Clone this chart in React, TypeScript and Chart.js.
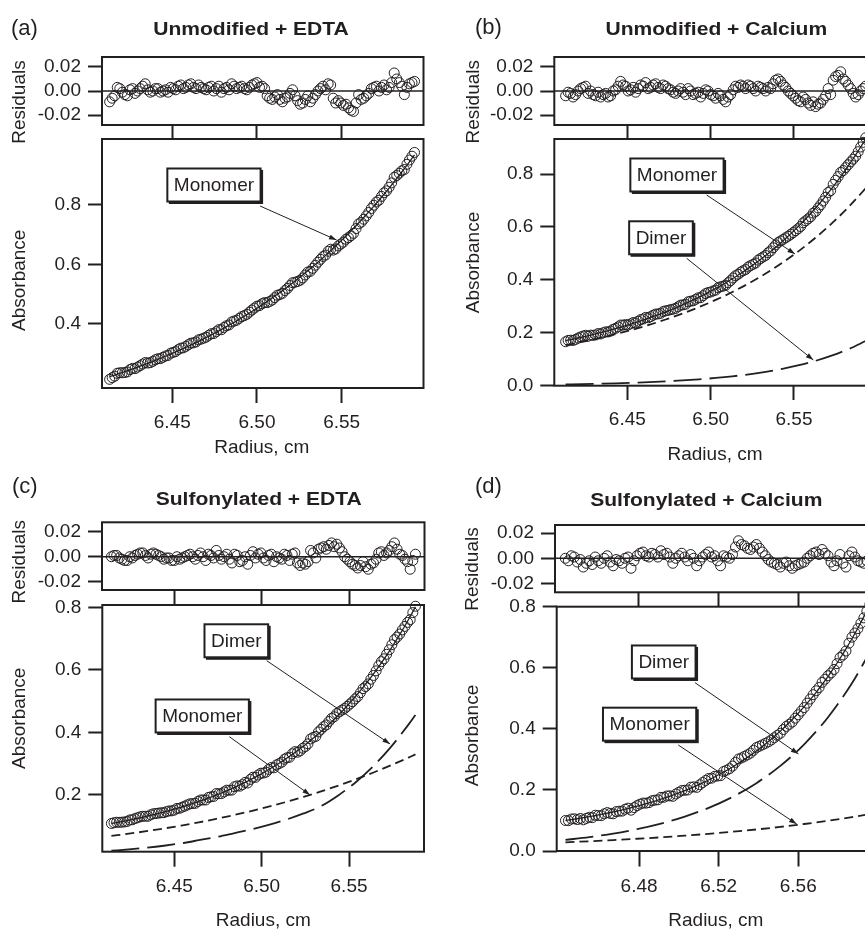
import React, { useEffect, useRef } from 'react';
import { Chart, registerables } from 'chart.js';

Chart.register(...registerables);

const INK = '#231f20';
const FONT = '"Liberation Sans", Arial, Helvetica, sans-serif';

// ---------- tick values ----------
const residTicks = [-0.02, 0, 0.02];
const radiusTicksABC = [6.45, 6.5, 6.55];
const radiusTicksD = [6.48, 6.52, 6.56];
const absTicksA = [0.4, 0.6, 0.8];
const absTicksB = [0, 0.2, 0.4, 0.6, 0.8];
const absTicksC = [0.2, 0.4, 0.6, 0.8];
const absTicksD = [0, 0.2, 0.4, 0.6, 0.8];

// ---------- panel (a) & (b) radii ----------
const radiusAB = [6.413, 6.416, 6.419, 6.422, 6.425, 6.428, 6.431, 6.434, 6.437, 6.44,
  6.443, 6.446, 6.449, 6.452, 6.455, 6.458, 6.461, 6.464, 6.467, 6.47,
  6.473, 6.476, 6.479, 6.482, 6.485, 6.488, 6.491, 6.494, 6.497, 6.5,
  6.503, 6.506, 6.509, 6.512, 6.515, 6.518, 6.521, 6.524, 6.527, 6.53,
  6.533, 6.536, 6.539, 6.542, 6.545, 6.548, 6.551, 6.554, 6.557, 6.56,
  6.563, 6.566, 6.569, 6.572, 6.575, 6.578, 6.581, 6.584, 6.587, 6.59, 6.593];
const radiusAB2 = [6.4145, 6.4175, 6.4205, 6.4235, 6.4265, 6.4295, 6.4325, 6.4355, 6.4385, 6.4415,
  6.4445, 6.4475, 6.4505, 6.4535, 6.4565, 6.4595, 6.4625, 6.4655, 6.4685, 6.4715,
  6.4745, 6.4775, 6.4805, 6.4835, 6.4865, 6.4895, 6.4925, 6.4955, 6.4985, 6.5015,
  6.5045, 6.5075, 6.5105, 6.5135, 6.5165, 6.5195, 6.5225, 6.5255, 6.5285, 6.5315,
  6.5345, 6.5375, 6.5405, 6.5435, 6.5465, 6.5495, 6.5525, 6.5555, 6.5585, 6.5615,
  6.5645, 6.5675, 6.5705, 6.5735, 6.5765, 6.5795, 6.5825, 6.5855, 6.5885, 6.5915];

// (a) Unmodified + EDTA
const residA = [-0.009, -0.004, 0.002, -0.003, 0.001, -0.002, 0.002, 0.006, -0.001, 0.002,
  -0.001, 0.001, 0.003, 0.001, 0.005, 0.003, 0.006, 0.002, 0.003, 0.001,
  0.004, 0.002, -0.001, 0.003, 0.006, 0.002, 0.004, 0.001, 0.005, 0.007,
  0.004, -0.004, -0.007, -0.003, -0.009, -0.005, 0.001, -0.008, -0.010, -0.004,
  -0.006, 0.000, 0.004, 0.006, -0.006, -0.008, -0.012, -0.014, -0.017, -0.003,
  -0.006, -0.002, 0.003, 0.000, 0.005, 0.003, 0.015, 0.007, -0.003, 0.006, 0.008];
const residA2 = [-0.006, 0.003, -0.001, -0.004, 0.002, 0.000, 0.004, 0.001, 0.000, 0.002,
  0.000, -0.001, 0.002, 0.004, 0.002, 0.005, 0.003, 0.005, 0.002, 0.003,
  0.000, 0.004, 0.002, 0.001, 0.004, 0.003, 0.002, 0.003, 0.006, 0.003,
  0.002, -0.006, -0.005, -0.007, -0.006, -0.002, -0.004, -0.011, -0.007, -0.009,
  -0.003, 0.002, 0.001, 0.005, -0.010, -0.010, -0.011, -0.016, -0.010, -0.007,
  -0.004, 0.002, 0.004, 0.003, 0.001, 0.007, 0.010, 0.004, 0.003, 0.007];
const absA = [0.2125, 0.2230, 0.2347, 0.2355, 0.2454, 0.2485, 0.2587, 0.2691, 0.2687, 0.2784,
  0.2823, 0.2913, 0.3006, 0.3060, 0.3176, 0.3234, 0.3344, 0.3385, 0.3479, 0.3545,
  0.3663, 0.3733, 0.3796, 0.3930, 0.4058, 0.4117, 0.4239, 0.4314, 0.4461, 0.4591,
  0.4674, 0.4709, 0.4797, 0.4959, 0.5023, 0.5190, 0.5381, 0.5424, 0.5541, 0.5742,
  0.5866, 0.6073, 0.6265, 0.6440, 0.6479, 0.6621, 0.6748, 0.6899, 0.7045, 0.7364,
  0.7519, 0.7747, 0.7991, 0.8159, 0.8412, 0.8600, 0.8933, 0.9072, 0.9196, 0.9516, 0.9771];
const absA2 = [0.2183, 0.2329, 0.2346, 0.2375, 0.2495, 0.2536, 0.2639, 0.2674, 0.2731, 0.2819,
  0.2868, 0.2930, 0.3033, 0.3128, 0.3185, 0.3294, 0.3355, 0.3457, 0.3512, 0.3609,
  0.3668, 0.3800, 0.3873, 0.3959, 0.4088, 0.4178, 0.4272, 0.4388, 0.4526, 0.4608,
  0.4712, 0.4748, 0.4878, 0.4981, 0.5117, 0.5286, 0.5398, 0.5463, 0.5642, 0.5764,
  0.5970, 0.6169, 0.6313, 0.6510, 0.6520, 0.6685, 0.6844, 0.6967, 0.7205, 0.7417,
  0.7633, 0.7884, 0.8100, 0.8291, 0.8476, 0.8747, 0.8993, 0.9154, 0.9371, 0.9644];
const fitA = [0.2215, 0.2270, 0.2327, 0.2385, 0.2444, 0.2505, 0.2567, 0.2631, 0.2697, 0.2764,
  0.2833, 0.2903, 0.2976, 0.3050, 0.3126, 0.3204, 0.3284, 0.3365, 0.3449, 0.3535,
  0.3623, 0.3713, 0.3806, 0.3900, 0.3998, 0.4097, 0.4199, 0.4304, 0.4411, 0.4521,
  0.4634, 0.4749, 0.4867, 0.4989, 0.5113, 0.5240, 0.5371, 0.5504, 0.5641, 0.5782,
  0.5926, 0.6073, 0.6225, 0.6380, 0.6539, 0.6701, 0.6868, 0.7039, 0.7215, 0.7394,
  0.7579, 0.7767, 0.7961, 0.8159, 0.8362, 0.8570, 0.8783, 0.9002, 0.9226, 0.9456, 0.9691];

// (b) Unmodified + Calcium
const residB = [-0.004, -0.002, -0.003, 0.002, 0.004, 0.000, -0.004, -0.005, -0.002, -0.004,
  0.001, 0.008, 0.004, 0.001, -0.001, 0.005, 0.007, 0.003, 0.006, 0.002,
  0.004, 0.001, -0.002, 0.002, -0.003, 0.000, -0.002, -0.005, 0.001, -0.003,
  -0.006, -0.004, -0.009, -0.003, 0.004, 0.005, 0.002, 0.004, 0.000, 0.003,
  0.000, 0.002, 0.009, 0.008, 0.003, -0.002, -0.006, -0.009, -0.007, -0.012,
  -0.013, -0.010, -0.004, -0.003, 0.012, 0.016, 0.008, 0.002, -0.005, 0.000, 0.004];
const residB2 = [-0.001, -0.005, 0.000, 0.003, -0.002, -0.003, -0.001, -0.003, -0.005, 0.000,
  0.004, 0.005, 0.000, 0.003, 0.002, 0.004, 0.002, 0.005, 0.003, 0.005,
  0.002, -0.001, 0.000, -0.001, 0.002, -0.003, -0.001, -0.002, 0.000, -0.004,
  -0.002, -0.007, -0.005, 0.001, 0.003, 0.004, 0.005, 0.002, 0.004, 0.002,
  0.003, 0.006, 0.010, 0.005, 0.000, -0.004, -0.008, -0.005, -0.010, -0.009,
  -0.011, -0.007, 0.002, 0.009, 0.013, 0.010, 0.005, -0.002, -0.003, 0.002];
const absB = [0.1660, 0.1720, 0.1750, 0.1843, 0.1906, 0.1911, 0.1917, 0.1955, 0.2035, 0.2066,
  0.2168, 0.2292, 0.2308, 0.2336, 0.2376, 0.2498, 0.2582, 0.2608, 0.2707, 0.2737,
  0.2830, 0.2875, 0.2923, 0.3044, 0.3078, 0.3194, 0.3263, 0.3325, 0.3481, 0.3540,
  0.3612, 0.3738, 0.3798, 0.3972, 0.4160, 0.4292, 0.4389, 0.4539, 0.4635, 0.4806,
  0.4922, 0.5093, 0.5320, 0.5472, 0.5591, 0.5717, 0.5858, 0.6017, 0.6232, 0.6385,
  0.6586, 0.6835, 0.7122, 0.7369, 0.7764, 0.8059, 0.8243, 0.8458, 0.8674, 0.9021, 0.9370];
const absB2 = [0.1710, 0.1710, 0.1802, 0.1875, 0.1869, 0.1904, 0.1971, 0.2000, 0.2031, 0.2132,
  0.2225, 0.2290, 0.2297, 0.2386, 0.2437, 0.2520, 0.2565, 0.2663, 0.2712, 0.2804,
  0.2848, 0.2894, 0.2984, 0.3056, 0.3171, 0.3209, 0.3319, 0.3403, 0.3521, 0.3581,
  0.3705, 0.3763, 0.3895, 0.4071, 0.4211, 0.4346, 0.4484, 0.4587, 0.4746, 0.4869,
  0.5028, 0.5212, 0.5411, 0.5527, 0.5649, 0.5788, 0.5933, 0.6155, 0.6304, 0.6521,
  0.6716, 0.6979, 0.7301, 0.7612, 0.7902, 0.8131, 0.8351, 0.8561, 0.8843, 0.9196];
const fitB = [0.1700, 0.1740, 0.1780, 0.1823, 0.1866, 0.1911, 0.1957, 0.2005, 0.2055, 0.2106,
  0.2158, 0.2212, 0.2268, 0.2326, 0.2386, 0.2448, 0.2512, 0.2578, 0.2647, 0.2717,
  0.2790, 0.2865, 0.2943, 0.3024, 0.3108, 0.3194, 0.3283, 0.3375, 0.3471, 0.3570,
  0.3672, 0.3778, 0.3888, 0.4002, 0.4120, 0.4242, 0.4369, 0.4499, 0.4635, 0.4776,
  0.4922, 0.5073, 0.5230, 0.5392, 0.5561, 0.5737, 0.5918, 0.6107, 0.6302, 0.6505,
  0.6716, 0.6935, 0.7162, 0.7399, 0.7644, 0.7899, 0.8163, 0.8438, 0.8724, 0.9021, 0.9330];
const curveRadiusB = [6.413, 6.423, 6.433, 6.443, 6.453, 6.463, 6.473, 6.483, 6.493, 6.503,
  6.513, 6.523, 6.533, 6.543, 6.553, 6.563, 6.573, 6.583, 6.593];
const monomerB = [0.1532, 0.1658, 0.1797, 0.1949, 0.2116, 0.2299, 0.2501, 0.2724, 0.2970, 0.3241,
  0.3541, 0.3873, 0.4239, 0.4645, 0.5096, 0.5596, 0.6152, 0.6770, 0.7458];
const dimerB = [0.0050, 0.0061, 0.0075, 0.0091, 0.0110, 0.0134, 0.0163, 0.0198, 0.0240, 0.0292,
  0.0355, 0.0431, 0.0524, 0.0637, 0.0774, 0.0941, 0.1143, 0.1390, 0.1689];

// (c) Sulfonylated + EDTA
const radiusC = [6.414, 6.417, 6.42, 6.423, 6.426, 6.429, 6.432, 6.435, 6.438, 6.441,
  6.444, 6.447, 6.45, 6.453, 6.456, 6.459, 6.462, 6.465, 6.468, 6.471,
  6.474, 6.477, 6.48, 6.483, 6.486, 6.489, 6.492, 6.495, 6.498, 6.501,
  6.504, 6.507, 6.51, 6.513, 6.516, 6.519, 6.522, 6.525, 6.528, 6.531,
  6.534, 6.537, 6.54, 6.543, 6.546, 6.549, 6.552, 6.555, 6.558, 6.561,
  6.564, 6.567, 6.57, 6.573, 6.576, 6.579, 6.582, 6.585, 6.588];
const radiusC2 = [6.4155, 6.4185, 6.4215, 6.4245, 6.4275, 6.4305, 6.4335, 6.4365, 6.4395, 6.4425,
  6.4455, 6.4485, 6.4515, 6.4545, 6.4575, 6.4605, 6.4635, 6.4665, 6.4695, 6.4725,
  6.4755, 6.4785, 6.4815, 6.4845, 6.4875, 6.4905, 6.4935, 6.4965, 6.4995, 6.5025,
  6.5055, 6.5085, 6.5115, 6.5145, 6.5175, 6.5205, 6.5235, 6.5265, 6.5295, 6.5325,
  6.5355, 6.5385, 6.5415, 6.5445, 6.5475, 6.5505, 6.5535, 6.5565, 6.5595, 6.5625,
  6.5655, 6.5685, 6.5715, 6.5745, 6.5775, 6.5805, 6.5835, 6.5865];
const residC = [0.000, 0.001, -0.002, -0.003, -0.001, 0.002, 0.003, -0.001, 0.003, 0.001,
  -0.002, -0.001, -0.003, -0.002, 0.000, 0.002, -0.002, 0.003, -0.003, 0.001,
  0.005, -0.002, 0.002, -0.005, 0.001, -0.003, -0.006, 0.004, 0.002, -0.001,
  0.001, -0.004, -0.001, 0.002, -0.003, 0.003, -0.007, -0.006, 0.005, -0.001,
  0.007, 0.006, 0.011, 0.010, 0.004, -0.002, -0.006, -0.009, -0.004, -0.010,
  -0.005, 0.003, 0.001, 0.005, 0.011, 0.002, -0.002, -0.010, 0.002];
const residC2 = [0.001, -0.001, -0.003, 0.000, 0.001, 0.003, 0.001, 0.002, 0.002, 0.000,
  -0.001, -0.003, 0.000, -0.001, 0.001, 0.000, 0.001, 0.000, 0.002, -0.001,
  0.001, 0.000, -0.002, 0.002, -0.004, 0.000, 0.001, -0.001, 0.003, -0.003,
  0.002, 0.000, -0.002, 0.001, 0.002, -0.005, -0.005, -0.004, 0.003, 0.006,
  0.008, 0.009, 0.008, 0.007, 0.000, -0.004, -0.007, -0.007, -0.008, -0.006,
  -0.002, 0.004, 0.003, 0.008, 0.006, 0.001, -0.004, -0.003];
const absC = [0.1089, 0.1129, 0.1131, 0.1154, 0.1208, 0.1273, 0.1320, 0.1319, 0.1399, 0.1420,
  0.1434, 0.1489, 0.1516, 0.1574, 0.1645, 0.1718, 0.1733, 0.1840, 0.1840, 0.1942,
  0.2046, 0.2044, 0.2154, 0.2157, 0.2292, 0.2331, 0.2384, 0.2569, 0.2639, 0.2701,
  0.2818, 0.2869, 0.3004, 0.3143, 0.3207, 0.3386, 0.3410, 0.3549, 0.3793, 0.3873,
  0.4099, 0.4240, 0.4449, 0.4604, 0.4716, 0.4835, 0.4982, 0.5147, 0.5400, 0.5552,
  0.5822, 0.6133, 0.6353, 0.6643, 0.6964, 0.7146, 0.7390, 0.7606, 0.8035];
const absC2 = [0.1114, 0.1125, 0.1138, 0.1201, 0.1246, 0.1302, 0.1320, 0.1369, 0.1410, 0.1432,
  0.1467, 0.1493, 0.1570, 0.1610, 0.1682, 0.1726, 0.1792, 0.1840, 0.1921, 0.1954,
  0.2040, 0.2099, 0.2151, 0.2265, 0.2282, 0.2403, 0.2497, 0.2564, 0.2695, 0.2730,
  0.2879, 0.2962, 0.3049, 0.3190, 0.3317, 0.3368, 0.3495, 0.3636, 0.3843, 0.4016,
  0.4185, 0.4350, 0.4502, 0.4660, 0.4766, 0.4909, 0.5070, 0.5269, 0.5466, 0.5702,
  0.5968, 0.6263, 0.6498, 0.6804, 0.7050, 0.7278, 0.7518, 0.7831];
const fitC = [0.1089, 0.1119, 0.1151, 0.1184, 0.1218, 0.1253, 0.1290, 0.1329, 0.1369, 0.1410,
  0.1454, 0.1499, 0.1546, 0.1594, 0.1645, 0.1698, 0.1753, 0.1810, 0.1870, 0.1932,
  0.1996, 0.2064, 0.2134, 0.2207, 0.2282, 0.2361, 0.2444, 0.2529, 0.2619, 0.2711,
  0.2808, 0.2909, 0.3014, 0.3123, 0.3237, 0.3356, 0.3480, 0.3609, 0.3743, 0.3883,
  0.4029, 0.4180, 0.4339, 0.4504, 0.4676, 0.4855, 0.5042, 0.5237, 0.5440, 0.5652,
  0.5872, 0.6103, 0.6343, 0.6593, 0.6854, 0.7126, 0.7410, 0.7706, 0.8015];
const curveRadiusC = [6.414, 6.424, 6.434, 6.444, 6.454, 6.464, 6.474, 6.484, 6.494, 6.504,
  6.514, 6.524, 6.534, 6.544, 6.554, 6.564, 6.574, 6.584, 6.588];
const monomerC = [0.0690, 0.0763, 0.0842, 0.0929, 0.1023, 0.1125, 0.1236, 0.1357, 0.1487, 0.1627,
  0.1778, 0.1941, 0.2116, 0.2303, 0.2505, 0.2720, 0.2950, 0.3195, 0.3298];
const dimerC = [0.0218, 0.0262, 0.0313, 0.0377, 0.0456, 0.0554, 0.0656, 0.0776, 0.0899, 0.1043,
  0.1211, 0.1410, 0.1646, 0.1995, 0.2417, 0.2927, 0.3538, 0.4250, 0.4557];

// (d) Sulfonylated + Calcium
const radiusD = [6.443, 6.446, 6.449, 6.452, 6.455, 6.458, 6.461, 6.464, 6.467, 6.47,
  6.473, 6.476, 6.479, 6.482, 6.485, 6.488, 6.491, 6.494, 6.497, 6.5,
  6.503, 6.506, 6.509, 6.512, 6.515, 6.518, 6.521, 6.524, 6.527, 6.53,
  6.533, 6.536, 6.539, 6.542, 6.545, 6.548, 6.551, 6.554, 6.557, 6.56,
  6.563, 6.566, 6.569, 6.572, 6.575, 6.578, 6.581, 6.584, 6.587, 6.59, 6.593, 6.596];
const radiusD2 = [6.4445, 6.4475, 6.4505, 6.4535, 6.4565, 6.4595, 6.4625, 6.4655, 6.4685, 6.4715,
  6.4745, 6.4775, 6.4805, 6.4835, 6.4865, 6.4895, 6.4925, 6.4955, 6.4985, 6.5015,
  6.5045, 6.5075, 6.5105, 6.5135, 6.5165, 6.5195, 6.5225, 6.5255, 6.5285, 6.5315,
  6.5345, 6.5375, 6.5405, 6.5435, 6.5465, 6.5495, 6.5525, 6.5555, 6.5585, 6.5615,
  6.5645, 6.5675, 6.5705, 6.5735, 6.5765, 6.5795, 6.5825, 6.5855, 6.5885, 6.5915, 6.5945];
const residD = [0.000, 0.002, -0.003, -0.007, -0.002, 0.001, -0.004, 0.002, -0.006, -0.002,
  0.000, -0.008, 0.002, 0.005, 0.001, 0.003, 0.006, 0.004, -0.004, 0.002,
  0.001, 0.003, -0.006, 0.001, 0.005, 0.002, -0.006, 0.001, 0.003, 0.014,
  0.010, 0.007, 0.011, 0.005, -0.001, -0.004, -0.007, -0.003, -0.008, -0.005,
  -0.003, 0.002, 0.005, 0.007, 0.002, -0.006, 0.003, -0.007, 0.005, -0.002, -0.004, 0.000];
const residD2 = [-0.002, 0.001, -0.001, -0.004, -0.005, -0.002, 0.000, -0.003, -0.001, -0.004,
  0.001, -0.002, 0.004, 0.002, 0.004, 0.001, 0.003, 0.001, 0.000, 0.004,
  -0.002, 0.000, -0.002, 0.003, 0.001, -0.002, 0.002, 0.000, 0.009, 0.011,
  0.008, 0.009, 0.008, 0.002, -0.003, -0.005, -0.004, -0.006, -0.006, -0.004,
  0.000, 0.004, 0.003, 0.004, -0.003, -0.002, -0.004, 0.002, 0.001, -0.003, -0.002];
const absD = [0.0999, 0.1048, 0.1029, 0.1021, 0.1105, 0.1171, 0.1158, 0.1258, 0.1219, 0.1303,
  0.1368, 0.1337, 0.1487, 0.1570, 0.1586, 0.1665, 0.1757, 0.1802, 0.1791, 0.1923,
  0.1989, 0.2089, 0.2083, 0.2242, 0.2375, 0.2444, 0.2468, 0.2647, 0.2782, 0.3013,
  0.3101, 0.3205, 0.3387, 0.3476, 0.3574, 0.3710, 0.3855, 0.4080, 0.4225, 0.4461,
  0.4697, 0.4976, 0.5247, 0.5522, 0.5740, 0.5944, 0.6333, 0.6549, 0.7002, 0.7283, 0.7634, 0.8066];
const absD2 = [0.0994, 0.1054, 0.1065, 0.1068, 0.1093, 0.1160, 0.1218, 0.1229, 0.1291, 0.1306,
  0.1403, 0.1422, 0.1534, 0.1568, 0.1646, 0.1676, 0.1760, 0.1807, 0.1867, 0.1981,
  0.1999, 0.2101, 0.2168, 0.2309, 0.2385, 0.2456, 0.2603, 0.2695, 0.2903, 0.3047,
  0.3148, 0.3296, 0.3432, 0.3525, 0.3637, 0.3788, 0.3978, 0.4148, 0.4348, 0.4579,
  0.4842, 0.5117, 0.5355, 0.5626, 0.5832, 0.6134, 0.6421, 0.6806, 0.7138, 0.7459, 0.7850];
const fitD = [0.0999, 0.1028, 0.1059, 0.1091, 0.1125, 0.1161, 0.1198, 0.1238, 0.1279, 0.1323,
  0.1368, 0.1417, 0.1467, 0.1520, 0.1576, 0.1635, 0.1697, 0.1762, 0.1831, 0.1903,
  0.1979, 0.2059, 0.2143, 0.2232, 0.2325, 0.2424, 0.2528, 0.2637, 0.2752, 0.2873,
  0.3001, 0.3135, 0.3277, 0.3426, 0.3584, 0.3750, 0.3925, 0.4110, 0.4305, 0.4511,
  0.4727, 0.4956, 0.5197, 0.5452, 0.5720, 0.6004, 0.6303, 0.6619, 0.6952, 0.7303, 0.7674, 0.8066];
const curveRadiusD = [6.443, 6.455, 6.467, 6.479, 6.491, 6.503, 6.515, 6.527, 6.539, 6.551,
  6.563, 6.575, 6.587, 6.596];
const monomerD = [0.0285, 0.0319, 0.0358, 0.0401, 0.0448, 0.0502, 0.0562, 0.0630, 0.0705, 0.0789,
  0.0884, 0.0989, 0.1108, 0.1206];
const dimerD = [0.0363, 0.0456, 0.0571, 0.0717, 0.0899, 0.1127, 0.1413, 0.1772, 0.2222, 0.2786,
  0.3494, 0.4382, 0.5494, 0.6511];

// ---------- types ----------
type Rect = { x: number; y: number; w: number; h: number };
type Area = { l: number; t: number; r: number; b: number };
type TextItem = {
  text: string; x: number; y: number; size: number; bold?: boolean; rotate?: boolean;
  align?: CanvasTextAlign; baseline?: CanvasTextBaseline; stretch?: number;
};
type Note = { text: string; cx: number; cy: number; sx: number; sy: number; ex: number; ey: number };
type Axis = { min: number; max: number; ticks: number[]; dec: number; labels: boolean; tickLen: number };
type Spec = {
  canvas: Rect; area: Area; x: Axis; y: Axis; zeroLine: boolean;
  datasets: any[]; texts: TextItem[]; notes: Note[];
};

const pts = (xs: number[], ys: number[]) => xs.map((x, i) => ({ x, y: ys[i] }));

const circles = (xs: number[], ys: number[], xs2: number[], ys2: number[]) => ({
  data: [...pts(xs, ys), ...pts(xs2, ys2)], showLine: false, pointRadius: 5, pointBorderWidth: 1,
  pointBorderColor: INK, pointBackgroundColor: 'rgba(0,0,0,0)', clip: false, order: 0,
});
const curve = (xs: number[], ys: number[], dash: number[], width: number, order: number) => ({
  data: pts(xs, ys), showLine: true, pointRadius: 0, borderColor: INK, borderWidth: width,
  borderDash: dash, cubicInterpolationMode: 'monotone', order,
});

const SHORT_DASH = [9, 5];
const LONG_DASH = [28, 8];

// ---------- plugin ----------
function decor(spec: Spec) {
  return {
    id: 'decor',
    afterDatasetsDraw(chart: any) {
      const { ctx, chartArea: a, scales } = chart;
      const sx = scales.x, sy = scales.y;
      ctx.save();
      ctx.strokeStyle = INK;
      ctx.fillStyle = INK;
      if (spec.zeroLine) {
        const y0 = sy.getPixelForValue(0);
        ctx.lineWidth = 1.6;
        ctx.beginPath(); ctx.moveTo(a.left, y0); ctx.lineTo(a.right, y0); ctx.stroke();
      }
      ctx.lineWidth = 2;
      ctx.strokeRect(a.left, a.top, a.right - a.left, a.bottom - a.top);

      for (const n of spec.notes) {
        const x1 = sx.getPixelForValue(n.sx), y1 = sy.getPixelForValue(n.sy);
        const x2 = sx.getPixelForValue(n.ex), y2 = sy.getPixelForValue(n.ey);
        ctx.lineWidth = 1;
        ctx.beginPath(); ctx.moveTo(x1, y1); ctx.lineTo(x2, y2); ctx.stroke();
        const ang = Math.atan2(y2 - y1, x2 - x1);
        const L = 8, spread = 0.32;
        ctx.beginPath();
        ctx.moveTo(x2, y2);
        ctx.lineTo(x2 - L * Math.cos(ang - spread), y2 - L * Math.sin(ang - spread));
        ctx.lineTo(x2 - L * Math.cos(ang + spread), y2 - L * Math.sin(ang + spread));
        ctx.closePath(); ctx.fill();

        ctx.font = `19px ${FONT}`;
        const w = ctx.measureText(n.text).width + 13;
        const h = 33;
        const cx = sx.getPixelForValue(n.cx), cy = sy.getPixelForValue(n.cy);
        const left = cx - w / 2, top = cy - h / 2;
        ctx.fillStyle = INK;
        ctx.fillRect(left + 1.5, top + 1.5, w + 1, h + 1);
        ctx.fillStyle = '#ffffff';
        ctx.fillRect(left, top, w, h);
        ctx.lineWidth = 2;
        ctx.strokeRect(left, top, w, h);
        ctx.fillStyle = INK;
        ctx.textAlign = 'center';
        ctx.textBaseline = 'middle';
        ctx.fillText(n.text, cx, cy + 1);
      }
      ctx.restore();
    },
    afterDraw(chart: any) {
      const { ctx } = chart;
      ctx.save();
      ctx.fillStyle = INK;
      for (const t of spec.texts) {
        const x = t.x - spec.canvas.x, y = t.y - spec.canvas.y;
        ctx.font = `${t.bold ? 'bold ' : ''}${t.size}px ${FONT}`;
        ctx.textAlign = t.align || 'center';
        ctx.textBaseline = t.baseline || 'middle';
        ctx.save();
        ctx.translate(x, y);
        if (t.rotate) ctx.rotate(-Math.PI / 2);
        if (t.stretch) ctx.scale(t.stretch, 1);
        ctx.fillText(t.text, 0, 0);
        ctx.restore();
      }
      ctx.restore();
    },
  };
}

function zeroPads(s: any) {
  s.paddingLeft = 0; s.paddingRight = 0; s.paddingTop = 0; s.paddingBottom = 0;
}

function buildConfig(spec: Spec): any {
  const { canvas, area, x, y } = spec;
  return {
    type: 'scatter',
    data: { datasets: spec.datasets },
    plugins: [decor(spec)],
    options: {
      responsive: false,
      maintainAspectRatio: false,
      animation: false,
      events: [],
      layout: {
        autoPadding: false,
        padding: { left: 0, top: area.t - canvas.y, right: canvas.x + canvas.w - area.r, bottom: 0 },
      },
      plugins: { legend: { display: false }, tooltip: { enabled: false }, title: { display: false } },
      scales: {
        x: {
          type: 'linear', position: 'bottom', min: x.min, max: x.max,
          afterBuildTicks: (s: any) => { s.ticks = x.ticks.map((v) => ({ value: v })); },
          afterFit: (s: any) => { s.height = canvas.y + canvas.h - area.b; zeroPads(s); },
          grid: { display: true, drawOnChartArea: false, drawTicks: true, tickLength: x.tickLen, tickWidth: 2, tickColor: INK },
          border: { display: false },
          ticks: {
            display: x.labels, padding: 8.6, color: INK, font: { family: FONT, size: 19 },
            maxRotation: 0, minRotation: 0, autoSkip: false,
            callback: (v: any) => Number(v).toFixed(x.dec),
          },
        },
        y: {
          type: 'linear', position: 'left', min: y.min, max: y.max,
          afterBuildTicks: (s: any) => { s.ticks = y.ticks.map((v) => ({ value: v })); },
          afterFit: (s: any) => { s.width = area.l - canvas.x; zeroPads(s); },
          grid: { display: true, drawOnChartArea: false, drawTicks: true, tickLength: y.tickLen, tickWidth: 2, tickColor: INK },
          border: { display: false },
          ticks: {
            display: y.labels, padding: 7, color: INK, font: { family: FONT, size: 19 },
            autoSkip: false, callback: (v: any) => Number(v).toFixed(y.dec),
          },
        },
      },
    },
  };
}

// ---------- specs ----------
const residAxis = (min: number, max: number): Axis => ({ min, max, ticks: residTicks, dec: 2, labels: true, tickLen: 14 });
const xAxis = (min: number, max: number, ticks: number[], labels: boolean, tickLen: number): Axis =>
  ({ min, max, ticks, dec: 2, labels, tickLen });
const absAxis = (min: number, max: number, ticks: number[]): Axis => ({ min, max, ticks, dec: 1, labels: true, tickLen: 14 });

const SPECS: Spec[] = [
  // (a) residuals
  {
    canvas: { x: 0, y: 0, w: 440, h: 160 }, area: { l: 102, t: 57, r: 423.5, b: 125 },
    x: xAxis(6.4085, 6.5983, radiusTicksABC, false, 14), y: residAxis(-0.0283, 0.0283), zeroLine: true,
    datasets: [circles(radiusAB, residA, radiusAB2, residA2)],
    texts: [
      { text: '(a)', x: 11, y: 34.7, size: 22, align: 'left', baseline: 'alphabetic' },
      { text: 'Unmodified + EDTA', x: 251, y: 35, size: 18, bold: true, baseline: 'alphabetic', stretch: 1.17 },
      { text: 'Residuals', x: 20, y: 102, size: 19, rotate: true },
    ],
    notes: [],
  },
  // (a) absorbance
  {
    canvas: { x: 0, y: 132, w: 440, h: 333 }, area: { l: 102, t: 139, r: 423.5, b: 388 },
    x: xAxis(6.4085, 6.5983, radiusTicksABC, true, 15), y: absAxis(0.1833, 1.0224, absTicksA), zeroLine: false,
    datasets: [circles(radiusAB, absA, radiusAB2, absA2), curve(radiusAB, fitA, [], 1.3, 1)],
    texts: [
      { text: 'Absorbance', x: 20, y: 280.3, size: 19, rotate: true },
      { text: 'Radius, cm', x: 261.7, y: 447.5, size: 19 },
    ],
    notes: [{ text: 'Monomer', cx: 6.4746, cy: 0.8674, sx: 6.5018, sy: 0.7966, ex: 6.547, ey: 0.682 }],
  },
  // (b) residuals
  {
    canvas: { x: 440, y: 0, w: 440, h: 160 }, area: { l: 554.3, t: 57, r: 876, b: 125 },
    x: xAxis(6.4062, 6.5992, radiusTicksABC, false, 14), y: residAxis(-0.0283, 0.0283), zeroLine: true,
    datasets: [circles(radiusAB, residB, radiusAB2, residB2)],
    texts: [
      { text: '(b)', x: 475, y: 33.7, size: 22, align: 'left', baseline: 'alphabetic' },
      { text: 'Unmodified + Calcium', x: 716.3, y: 35, size: 18, bold: true, baseline: 'alphabetic', stretch: 1.17 },
      { text: 'Residuals', x: 473.5, y: 101.7, size: 19, rotate: true },
    ],
    notes: [],
  },
  // (b) absorbance
  {
    canvas: { x: 440, y: 132, w: 440, h: 333 }, area: { l: 554.3, t: 139, r: 876, b: 385.7 },
    x: xAxis(6.4062, 6.5992, radiusTicksABC, true, 14.3), y: absAxis(0, 0.9323, absTicksB), zeroLine: false,
    datasets: [
      circles(radiusAB, absB, radiusAB2, absB2),
      curve(radiusAB, fitB, [], 1.3, 1),
      curve(curveRadiusB, monomerB, SHORT_DASH, 1.8, 2),
      curve(curveRadiusB, dimerB, LONG_DASH, 1.8, 2),
    ],
    texts: [
      { text: 'Absorbance', x: 473.5, y: 262.5, size: 19, rotate: true },
      { text: 'Radius, cm', x: 715, y: 455, size: 19 },
    ],
    notes: [
      { text: 'Monomer', cx: 6.4798, cy: 0.7963, sx: 6.4976, sy: 0.7207, ex: 6.5506, ey: 0.4977 },
      { text: 'Dimer', cx: 6.4702, cy: 0.559, sx: 6.4856, sy: 0.4815, ex: 6.5616, ey: 0.0971 },
    ],
  },
  // (c) residuals
  {
    canvas: { x: 0, y: 465, w: 440, h: 160 }, area: { l: 102, t: 522.3, r: 424.5, b: 590 },
    x: xAxis(6.4086, 6.5932, radiusTicksABC, false, 15), y: residAxis(-0.0266, 0.0275), zeroLine: true,
    datasets: [circles(radiusC, residC, radiusC2, residC2)],
    texts: [
      { text: '(c)', x: 12, y: 492.5, size: 22, align: 'left', baseline: 'alphabetic' },
      { text: 'Sulfonylated + EDTA', x: 258.7, y: 504.5, size: 18, bold: true, baseline: 'alphabetic', stretch: 1.17 },
      { text: 'Residuals', x: 20, y: 561.7, size: 19, rotate: true },
    ],
    notes: [],
  },
  // (c) absorbance
  {
    canvas: { x: 0, y: 598, w: 440, h: 332 }, area: { l: 102.3, t: 605, r: 424, b: 851.7 },
    x: xAxis(6.4088, 6.5929, radiusTicksABC, true, 15), y: absAxis(0.0187, 0.8074, absTicksC), zeroLine: false,
    datasets: [
      circles(radiusC, absC, radiusC2, absC2),
      curve(radiusC, fitC, [], 1.3, 1),
      curve(curveRadiusC, monomerC, SHORT_DASH, 1.8, 2),
      curve(curveRadiusC, dimerC, LONG_DASH, 1.8, 2),
    ],
    texts: [
      { text: 'Absorbance', x: 20, y: 718.3, size: 19, rotate: true },
      { text: 'Radius, cm', x: 263.3, y: 921, size: 19 },
    ],
    notes: [
      { text: 'Dimer', cx: 6.4855, cy: 0.693, sx: 6.5029, sy: 0.6293, ex: 6.5735, ey: 0.363 },
      { text: 'Monomer', cx: 6.466, cy: 0.4526, sx: 6.4815, sy: 0.3864, ex: 6.5277, ey: 0.2 },
    ],
  },
  // (d) residuals
  {
    canvas: { x: 440, y: 465, w: 440, h: 160 }, area: { l: 555, t: 525, r: 878, b: 592.3 },
    x: xAxis(6.4378, 6.6001, radiusTicksD, false, 14.4), y: residAxis(-0.0272, 0.0266), zeroLine: true,
    datasets: [circles(radiusD, residD, radiusD2, residD2)],
    texts: [
      { text: '(d)', x: 475, y: 492.5, size: 22, align: 'left', baseline: 'alphabetic' },
      { text: 'Sulfonylated + Calcium', x: 706.3, y: 505.5, size: 18, bold: true, baseline: 'alphabetic', stretch: 1.17 },
      { text: 'Residuals', x: 473, y: 569, size: 19, rotate: true },
    ],
    notes: [],
  },
  // (d) absorbance
  {
    canvas: { x: 440, y: 598, w: 440, h: 332 }, area: { l: 556.7, t: 606.7, r: 878, b: 851 },
    x: xAxis(6.4386, 6.6001, radiusTicksD, true, 15.5), y: absAxis(0, 0.8, absTicksD), zeroLine: false,
    datasets: [
      circles(radiusD, absD, radiusD2, absD2),
      curve(radiusD, fitD, [], 1.3, 1),
      curve(curveRadiusD, monomerD, SHORT_DASH, 1.8, 2),
      curve(curveRadiusD, dimerD, LONG_DASH, 1.8, 2),
    ],
    texts: [
      { text: 'Absorbance', x: 473, y: 735.5, size: 19, rotate: true },
      { text: 'Radius, cm', x: 715.8, y: 921, size: 19 },
    ],
    notes: [
      { text: 'Dimer', cx: 6.4924, cy: 0.619, sx: 6.5081, sy: 0.5513, ex: 6.5601, ey: 0.3177 },
      { text: 'Monomer', cx: 6.4853, cy: 0.4153, sx: 6.4997, sy: 0.3472, ex: 6.5592, ey: 0.0884 },
    ],
  },
];

function SubChart({ spec }: { spec: Spec }) {
  const ref = useRef<HTMLCanvasElement>(null);
  useEffect(() => {
    if (!ref.current) return;
    const chart = new Chart(ref.current, buildConfig(spec));
    return () => chart.destroy();
  }, [spec]);
  const c = spec.canvas;
  return (
    <canvas
      ref={ref}
      width={c.w}
      height={c.h}
      style={{ position: 'absolute', left: c.x, top: c.y, width: c.w, height: c.h }}
    />
  );
}

export default function App() {
  return (
    <div style={{ position: 'absolute', left: 0, top: 0, width: 865, height: 930, overflow: 'hidden', background: '#ffffff' }}>
      {SPECS.map((s, i) => <SubChart key={i} spec={s} />)}
    </div>
  );
}
